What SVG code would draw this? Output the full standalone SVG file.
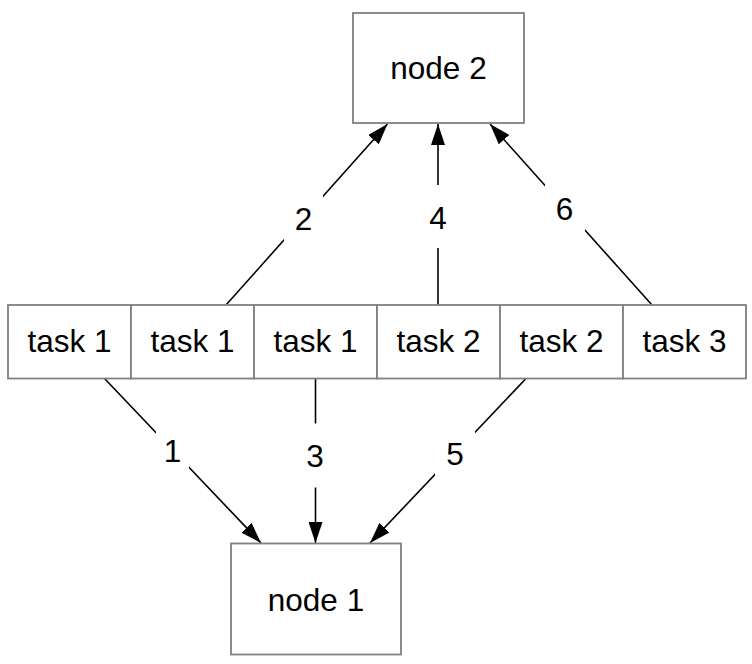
<svg xmlns="http://www.w3.org/2000/svg" width="752" height="664" viewBox="0 0 752 664">
  <style>
    .box { fill: #ffffff; stroke: #808080; stroke-width: 1.8; }
    .txt { font-family: "Liberation Sans", Arial, Helvetica, sans-serif; font-size: 31.5px; fill: #000000; text-anchor: middle; }
    .edge { stroke: #000000; stroke-width: 1.6; fill: none; marker-end: url(#arrow); }
    .lblbg { fill: #ffffff; stroke: none; }
  </style>
  <defs>
    <marker id="arrow" markerUnits="userSpaceOnUse" markerWidth="21" markerHeight="14" refX="21" refY="7" orient="auto" viewBox="0 0 21 14">
      <path d="M0,0 L21,7 L0,14 Z" fill="#000000"/>
    </marker>
  </defs>
  <rect width="752" height="664" fill="#ffffff"/>

  <g id="connectors">
    <line class="edge" x1="226" y1="305" x2="387.5" y2="124"/>
    <line class="edge" x1="438" y1="305" x2="438" y2="124"/>
    <line class="edge" x1="652" y1="305" x2="490" y2="124"/>
    <line class="edge" x1="104.5" y1="378.5" x2="261" y2="543"/>
    <line class="edge" x1="315.5" y1="378.5" x2="315.5" y2="543"/>
    <line class="edge" x1="526" y1="378.5" x2="370" y2="543"/>
    <g id="label-2"><rect class="lblbg" x="284" y="186" width="39" height="64"/><text class="txt" x="303.5" y="230">2</text></g>
    <g id="label-4"><rect class="lblbg" x="418" y="185" width="40" height="63"/><text class="txt" x="438" y="229">4</text></g>
    <g id="label-6"><rect class="lblbg" x="545" y="177" width="40" height="63"/><text class="txt" x="564.5" y="220">6</text></g>
    <g id="label-1"><rect class="lblbg" x="156" y="418" width="33" height="64"/><text class="txt" x="172.5" y="461.5">1</text></g>
    <g id="label-3"><rect class="lblbg" x="295.5" y="423.5" width="40" height="64"/><text class="txt" x="315" y="466.5">3</text></g>
    <g id="label-5"><rect class="lblbg" x="435" y="421" width="40" height="64"/><text class="txt" x="455" y="465">5</text></g>
  </g>

  <g id="node2">
    <rect class="box" x="353" y="13" width="171" height="110"/>
    <text class="txt" x="438.5" y="79">node 2</text>
  </g>
  <g id="node1">
    <rect class="box" x="231" y="543.5" width="170" height="111"/>
    <text class="txt" x="316" y="611">node 1</text>
  </g>
  <g id="task-a">
    <rect class="box" x="8" y="305" width="123" height="73.5"/>
    <text class="txt" x="69.5" y="352">task 1</text>
  </g>
  <g id="task-b">
    <rect class="box" x="131" y="305" width="123" height="73.5"/>
    <text class="txt" x="192.5" y="352">task 1</text>
  </g>
  <g id="task-c">
    <rect class="box" x="254" y="305" width="123" height="73.5"/>
    <text class="txt" x="315.5" y="352">task 1</text>
  </g>
  <g id="task-d">
    <rect class="box" x="377" y="305" width="123" height="73.5"/>
    <text class="txt" x="438.5" y="352">task 2</text>
  </g>
  <g id="task-e">
    <rect class="box" x="500" y="305" width="123" height="73.5"/>
    <text class="txt" x="561.5" y="352">task 2</text>
  </g>
  <g id="task-f">
    <rect class="box" x="623" y="305" width="123" height="73.5"/>
    <text class="txt" x="684.5" y="352">task 3</text>
  </g>
</svg>
